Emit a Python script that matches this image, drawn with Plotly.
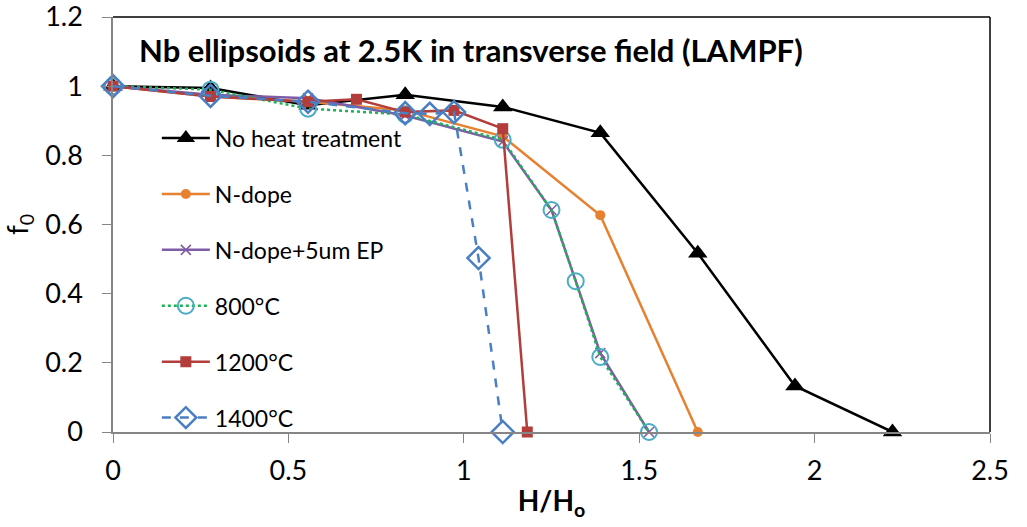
import plotly.graph_objects as go

# ---- data ----
x_noheat = [0, 0.278, 0.556, 0.833, 1.111, 1.389, 1.667, 1.944, 2.222]
y_noheat = [1.0, 0.995, 0.945, 0.975, 0.94, 0.865, 0.517, 0.133, 0.0]

x_ndope = [0, 0.278, 0.556, 0.833, 1.111, 1.389, 1.667]
y_ndope = [1.0, 0.97, 0.955, 0.93, 0.855, 0.627, 0.0]

x_ndope_ep = [0, 0.278, 0.556, 0.833, 1.111, 1.25, 1.389, 1.528]
y_ndope_ep = [1.0, 0.975, 0.965, 0.915, 0.84, 0.642, 0.228, 0.0]

x_800 = [0, 0.278, 0.556, 0.833, 1.111, 1.25, 1.319, 1.389, 1.528]
y_800 = [1.0, 0.99, 0.935, 0.918, 0.845, 0.642, 0.436, 0.217, 0.0]

x_1200 = [0, 0.278, 0.556, 0.694, 0.833, 0.972, 1.111, 1.181]
y_1200 = [1.0, 0.97, 0.955, 0.962, 0.925, 0.93, 0.877, 0.0]

x_1400 = [0, 0.278, 0.556, 0.833, 0.903, 0.972, 1.042, 1.111]
y_1400 = [1.0, 0.972, 0.955, 0.922, 0.92, 0.925, 0.503, 0.0]

names = ["No heat treatment", "N-dope", "N-dope+5um EP", "800°C", "1200°C", "1400°C"]
x_ticks = [0, 0.5, 1, 1.5, 2, 2.5]
x_tick_labels = ["0", "0.5", "1", "1.5", "2", "2.5"]
y_ticks = [0, 0.2, 0.4, 0.6, 0.8, 1.0, 1.2]
y_tick_labels = ["0", "0.2", "0.4", "0.6", "0.8", "1", "1.2"]

FONT = "Lato"

fig = go.Figure()

series = [
    (x_noheat, y_noheat, dict(color="#000000", width=2.5),
     dict(symbol="triangle-up", size=17, color="#000000")),
    (x_ndope, y_ndope, dict(color="#E8812F", width=2.5),
     dict(symbol="circle", size=10, color="#E8812F")),
    (x_ndope_ep, y_ndope_ep, dict(color="#7E5CA6", width=2.5),
     dict(symbol="x-thin", size=10, color="#7E5CA6", line=dict(color="#7E5CA6", width=1.5))),
    (x_800, y_800, dict(color="#1DB254", width=2.5, dash="dot"),
     dict(symbol="circle-open", size=16, color="#4AACC5", line=dict(width=2))),
    (x_1200, y_1200, dict(color="#B23D3A", width=2.5),
     dict(symbol="square", size=11, color="#B23D3A")),
    (x_1400, y_1400, dict(color="#4A7FC4", width=2.5, dash="dash"),
     dict(symbol="diamond-open", size=17, color="#4A7FC4", line=dict(width=2.5))),
]

for i, (xs, ys, ln, mk) in enumerate(series):
    fig.add_trace(go.Scatter(
        x=xs, y=ys, mode="lines+markers", name=names[i],
        line=ln, marker=mk, cliponaxis=False,
        legendgroup=f"g{i}",
    ))

fig.update_layout(
    width=1027, height=527,
    margin=dict(l=113, r=37, t=17, b=95),
    paper_bgcolor="white", plot_bgcolor="white",
    font=dict(family=FONT, color="#000000"),
    showlegend=True,
    legend=dict(
        x=0.05, y=0.76, xanchor="left", yanchor="top",
        bgcolor="rgba(0,0,0,0)",
        font=dict(family=FONT, size=23, color="#000000"),
        tracegroupgap=23,
        itemwidth=48,
    ),
    xaxis=dict(
        range=[0, 2.5], tickvals=x_ticks, ticktext=x_tick_labels,
        showgrid=False, zeroline=False, automargin=False,
        showline=True, linecolor="#868686", linewidth=1.5,
        ticks="outside", ticklen=9, tickcolor="#868686",
        tickfont=dict(family=FONT, size=27),
        ticklabelstandoff=5,
        title=dict(text="<b>H/H<sub>o</sub></b>", font=dict(family=FONT, size=28), standoff=6),
    ),
    yaxis=dict(
        range=[0, 1.2], tickvals=y_ticks, ticktext=y_tick_labels,
        showgrid=False, zeroline=False, automargin=False,
        showline=True, linecolor="#868686", linewidth=1.5,
        ticks="outside", ticklen=9, tickcolor="#868686",
        tickfont=dict(family=FONT, size=27),
        ticklabelstandoff=14, ticklabeloverflow="allow",
        title=dict(text="f<sub>0</sub>", font=dict(family=FONT, size=28), standoff=10),
    ),
    shapes=[
        dict(type="line", xref="paper", yref="paper", x0=0, x1=1, y0=1, y1=1,
             line=dict(color="#000000", width=1.5)),
        dict(type="line", xref="paper", yref="paper", x0=1, x1=1, y0=0, y1=1,
             line=dict(color="#000000", width=1.5)),
    ],
    annotations=[
        dict(text="<b>Nb ellipsoids at 2.5K in transverse field (LAMPF)</b>",
             xref="paper", yref="paper", x=0.027, y=0.92, xanchor="left", yanchor="middle",
             showarrow=False, font=dict(family=FONT, size=31, color="#000000")),
    ],
)

fig.write_html("out.html")
